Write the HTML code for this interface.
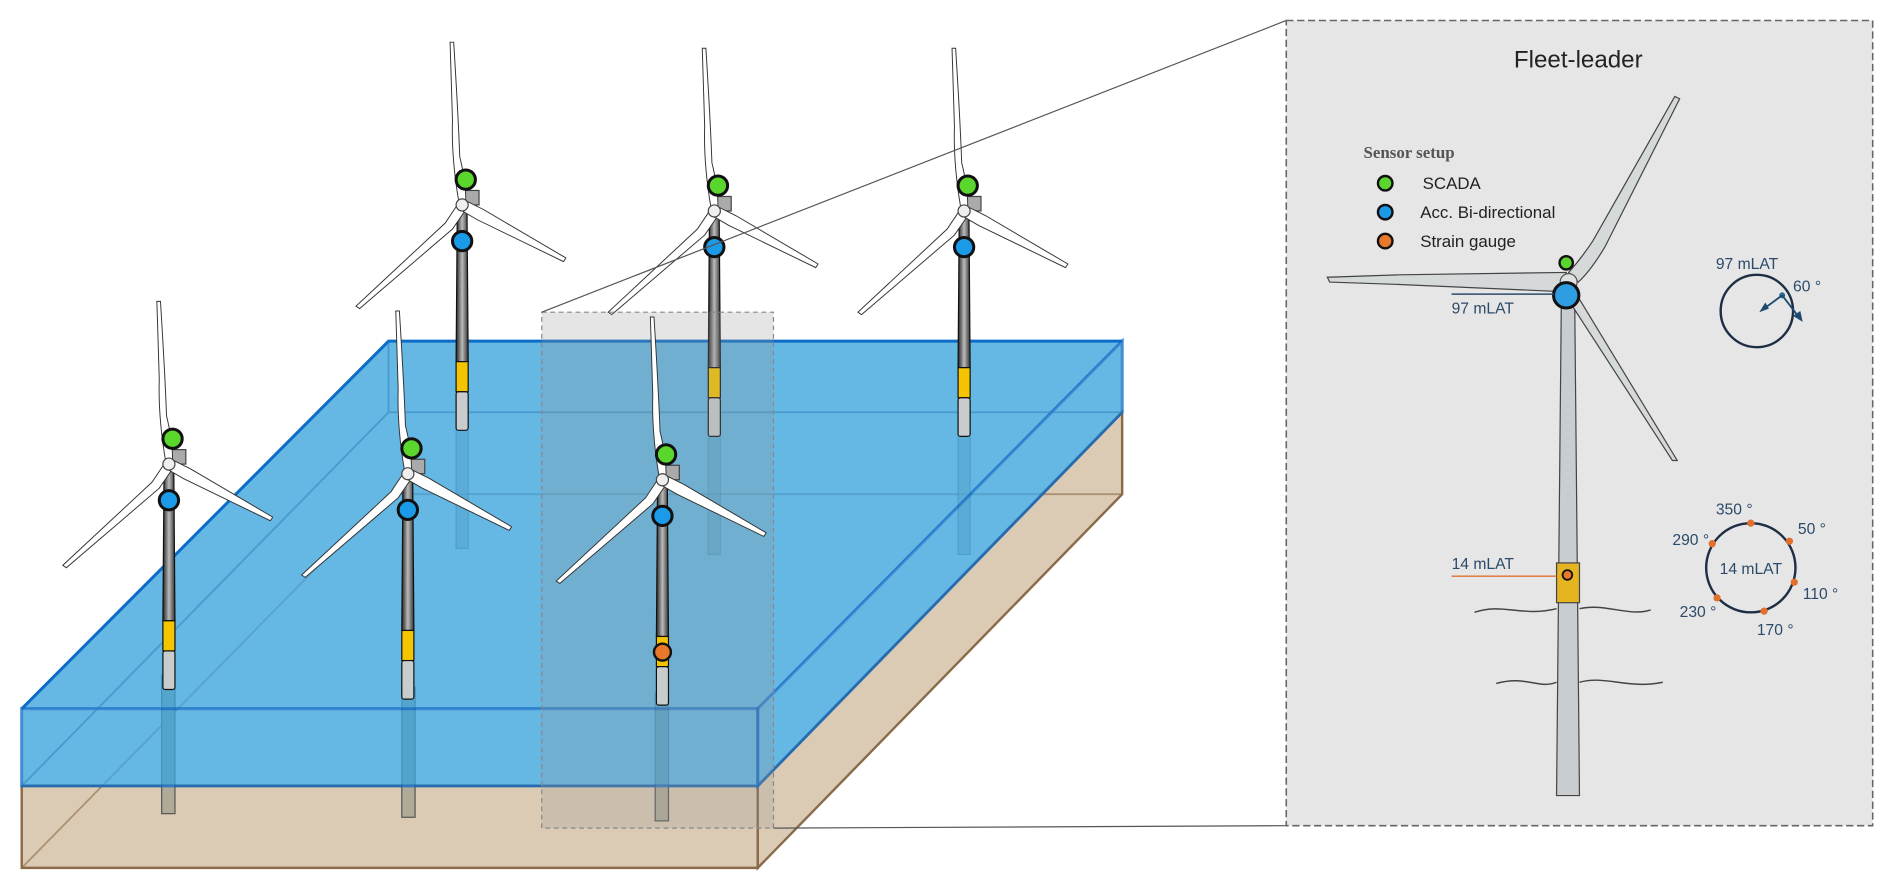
<!DOCTYPE html>
<html><head><meta charset="utf-8"><style>html,body{margin:0;padding:0;background:#fff}svg{display:block}</style></head>
<body>
<svg width="1892" height="892" viewBox="0 0 1568 740" preserveAspectRatio="none" xmlns="http://www.w3.org/2000/svg" font-family="Liberation Sans, sans-serif">
<defs>
<linearGradient id="tw" x1="0" x2="1"><stop offset="0" stop-color="#222"/><stop offset="0.5" stop-color="#bbb"/><stop offset="1" stop-color="#333"/></linearGradient>
<g id="tb">
  <path d="M-4,0 L4,0 L5,130 L-5,130 Z" fill="url(#tw)" stroke="#111" stroke-width="1"/>
  <rect x="-5" y="130" width="10" height="25" fill="#f5c400" stroke="#111" stroke-width="1"/>
  <rect x="-5" y="155" width="10" height="32" rx="2" fill="#c8cccc" stroke="#111" stroke-width="1"/>
  <rect x="-2" y="-12" width="16" height="12" fill="#aaa" stroke="#444" stroke-width="1"/>
  <path d="M-3,-4 Q-9,-40 -8,-70 L-10,-135 L-7,-135 Q-3,-70 -2,-40 Q3,-20 3,-4 Z" fill="#fff" stroke="#333" stroke-width="0.8"/>
  <path d="M-4,0 L-14,15 L-88,84 L-85,86 L-8,20 L3,4 Z" fill="#fff" stroke="#333" stroke-width="0.8"/>
  <path d="M2,-4 L18,4 L86,44 L84,47 L12,12 L0,5 Z" fill="#fff" stroke="#333" stroke-width="0.8"/>
  <circle cx="0" cy="0" r="5" fill="#eee" stroke="#444"/>
  <circle cx="3" cy="-21" r="8" fill="#5bd62c" stroke="#111" stroke-width="2.5"/>
  <circle cx="0" cy="30" r="8" fill="#1b9ae8" stroke="#111" stroke-width="2.5"/>
</g>
</defs>
<path d="M18,652 L628,652 L628,720 L18,720 Z" fill="#dccbb4" stroke="#8a6a48" stroke-width="2"/>
<path d="M628,652 L930,342 L930,410 L628,720 Z" fill="#dccbb4" stroke="#8a6a48" stroke-width="2"/>
<path d="M18,720 L322,410 L930,410" fill="none" stroke="#8a6a48" stroke-width="1.5" opacity="0.6"/>
<g fill="#b0ab98" stroke="#555" stroke-width="1">
<rect x="134" y="560" width="11" height="115"/><rect x="333" y="570" width="11" height="108"/><rect x="543" y="575" width="11" height="106"/>
<rect x="378" y="340" width="10" height="115" opacity="0.6"/><rect x="587" y="345" width="10" height="115" opacity="0.6"/><rect x="794" y="345" width="10" height="115" opacity="0.6"/>
</g>
<path d="M18,588 L322,283 L930,283 L628,588 Z" fill="#3aa3dd" opacity="0.78"/>
<path d="M18,588 L628,588 L628,652 L18,652 Z" fill="#3aa3dd" opacity="0.78" stroke="#0d6cc8" stroke-width="2.5"/>
<path d="M628,588 L930,283 L930,342 L628,652 Z" fill="#3aa3dd" opacity="0.78" stroke="#0d6cc8" stroke-width="2.5"/>
<path d="M18,588 L322,283 L930,283" fill="none" stroke="#0d6cc8" stroke-width="2.5"/>
<path d="M18,652 L322,342 L930,342 M322,342 L322,283" fill="none" stroke="#2a7fb8" stroke-width="1.5" opacity="0.5"/>
<use href="#tb" x="383" y="170"/>
<use href="#tb" x="592" y="175"/>
<use href="#tb" x="799" y="175"/>
<rect x="449" y="259" width="192" height="428" fill="#999" opacity="0.25"/>
<rect x="449" y="259" width="192" height="428" fill="none" stroke="#888" stroke-dasharray="4,3"/>
<line x1="449" y1="259" x2="1066" y2="17" stroke="#555" stroke-width="1"/>
<line x1="641" y1="687" x2="1066" y2="685" stroke="#555" stroke-width="1"/>
<use href="#tb" x="140" y="385"/>
<use href="#tb" x="338" y="393"/>
<use href="#tb" x="549" y="398"/>
<circle cx="549" cy="541" r="7" fill="#e8782a" stroke="#111" stroke-width="2"/>
<rect x="1066" y="17" width="486" height="668" fill="#e6e6e6" stroke="#666" stroke-width="1.3" stroke-dasharray="6,3"/>
<text x="1308" y="56" font-size="20" text-anchor="middle" fill="#222">Fleet-leader</text>
<text x="1130" y="131" font-size="14" font-weight="bold" fill="#555" font-family="Liberation Serif, serif">Sensor setup</text>
<circle cx="1148" cy="152" r="6" fill="#5bd62c" stroke="#111" stroke-width="2"/>
<circle cx="1148" cy="176" r="6" fill="#1b9ae8" stroke="#111" stroke-width="2"/>
<circle cx="1148" cy="200" r="6" fill="#e8782a" stroke="#111" stroke-width="2"/>
<g font-size="14" fill="#222"><text x="1179" y="157">SCADA</text><text x="1177" y="181">Acc. Bi-directional</text><text x="1177" y="205">Strain gauge</text></g>
<path d="M1294,245 L1305,245 L1309,660 L1290,660 Z" fill="#c9cdcf" stroke="#444" stroke-width="1"/>
<rect x="1290" y="467" width="19" height="33" fill="#e5b521" stroke="#444"/>
<circle cx="1299" cy="477" r="4" fill="#e8782a" stroke="#111" stroke-width="1.5"/>
<path d="M1298,226 L1160,228 L1100,230 L1102,234 L1160,236 L1296,242 Z" fill="#d6d9da" stroke="#444" stroke-width="1"/>
<path d="M1300,226 Q1310,215 1320,200 L1388,80 L1392,82 L1330,205 Q1318,225 1308,234 Z" fill="#d6d9da" stroke="#444" stroke-width="1"/>
<path d="M1304,240 L1390,382 L1386,382 L1298,246 Z" fill="#d6d9da" stroke="#444" stroke-width="1"/>
<circle cx="1300" cy="234" r="7" fill="#e0e0e0" stroke="#555"/>
<circle cx="1298" cy="218" r="5.5" fill="#5bd62c" stroke="#111" stroke-width="2"/>
<circle cx="1298" cy="245" r="10.5" fill="#2f9de2" stroke="#111" stroke-width="2.5"/>
<line x1="1203" y1="244" x2="1288" y2="244" stroke="#2c4a6a" stroke-width="1.2"/>
<text x="1203" y="260" font-size="13" fill="#2c4a6a">97 mLAT</text>
<line x1="1203" y1="478" x2="1290" y2="478" stroke="#e07030" stroke-width="1.2"/>
<text x="1203" y="472" font-size="13" fill="#2c4a6a">14 mLAT</text>
<path d="M1222,508 C1245,500 1262,512 1290,505 M1309,505 C1330,500 1350,512 1368,506" fill="none" stroke="#444" stroke-width="1.2"/>
<path d="M1240,567 C1265,560 1275,572 1290,566 M1309,566 C1330,560 1350,572 1378,566" fill="none" stroke="#444" stroke-width="1.2"/>
<circle cx="1456" cy="258" r="30" fill="none" stroke="#1e2e44" stroke-width="2"/>
<text x="1422" y="223" font-size="13" fill="#2c4a6a">97 mLAT</text>
<text x="1486" y="242" font-size="13" fill="#2c4a6a">60 °</text>
<circle cx="1477" cy="245" r="2.5" fill="#2c6a9a"/>
<line x1="1477" y1="245" x2="1462" y2="256" stroke="#1e4a6e" stroke-width="1.5"/><path d="M1458,259 L1463,251 L1466,256 Z" fill="#1e4a6e"/>
<line x1="1477" y1="245" x2="1490" y2="262" stroke="#1e4a6e" stroke-width="1.5"/><path d="M1494,267 L1486,262 L1492,258 Z" fill="#1e4a6e"/>
<circle cx="1451" cy="471" r="37" fill="none" stroke="#1e2e44" stroke-width="2"/>
<g fill="#e0702a"><circle cx="1451" cy="434" r="3"/><circle cx="1483" cy="449" r="3"/><circle cx="1487" cy="483" r="3"/><circle cx="1462" cy="507" r="3"/><circle cx="1423" cy="496" r="3"/><circle cx="1419" cy="451" r="3"/></g>
<g font-size="13" fill="#2c4a6a"><text x="1422" y="427">350 °</text><text x="1490" y="443">50 °</text><text x="1386" y="452">290 °</text><text x="1494" y="497">110 °</text><text x="1392" y="512">230 °</text><text x="1456" y="527">170 °</text>
<text x="1451" y="476" text-anchor="middle">14 mLAT</text></g>
</svg>
</body></html>
